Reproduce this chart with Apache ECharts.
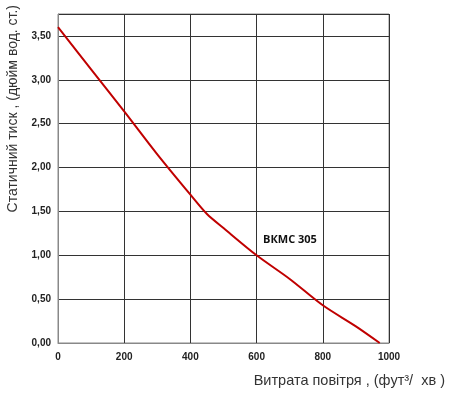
<!DOCTYPE html>
<html><head><meta charset="utf-8">
<script src="https://cdn.jsdelivr.net/npm/echarts@6/dist/echarts.min.js"></script>
<style>html,body{margin:0;padding:0;background:#fff}#c{width:450px;height:394px}</style>
</head><body><div id="c"></div>
<script>
const flowValues = [0, 100, 200, 300, 400, 450, 500, 600, 700, 800, 900, 972];
const pressureValues = [3.6, 3.12, 2.64, 2.15, 1.69, 1.47, 1.31, 1.0, 0.73, 0.43, 0.19, 0];
const seriesName = 'ВКМС 305';
const xTitle = 'Витрата повітря , (фут³/  хв )';
const yTitle = 'Статичний тиск , (дюйм вод. ст.)';

const chart = echarts.init(document.getElementById('c'));
const pts = flowValues.map((x, i) => [x, pressureValues[i]]);
chart.setOption({
  animation: false,
  grid: {left: 58, right: 61, top: 14, bottom: 51, show: true, borderColor: '#888', borderWidth: 1},
  xAxis: {
    type: 'value', min: 0, max: 1000, interval: 200,
    axisLine: {show: true, lineStyle: {color: '#888'}},
    axisTick: {show: false},
    splitLine: {show: true, lineStyle: {color: '#333', width: 1}},
    axisLabel: {color: '#222', fontSize: 10, fontWeight: 'bold', fontFamily: 'Liberation Sans, Arial', margin: 9,
      formatter: v => String(v)}
  },
  yAxis: {
    type: 'value', min: 0, max: 3.75, interval: 0.5,
    axisLine: {show: true, lineStyle: {color: '#888'}},
    axisTick: {show: false},
    splitLine: {show: true, lineStyle: {color: '#333', width: 1}},
    axisLabel: {color: '#222', fontSize: 10, fontWeight: 'bold', fontFamily: 'Liberation Sans, Arial', margin: 7,
      showMaxLabel: false,
      formatter: v => (Math.abs(v - 3.75) < 1e-6 ? '' : v.toFixed(2).replace('.', ','))}
  },
  series: [{
    type: 'line', name: seriesName, data: pts, smooth: 0.3, symbol: 'none',
    lineStyle: {color: '#C00000', width: 2}
  }],
  graphic: [
    {type: 'text', left: 263, top: 234, style: {text: seriesName, font: 'bold 11px "Open Sans", sans-serif', fill: '#111'}},
    {type: 'text', right: 5, top: 373, style: {text: xTitle, font: '14.5px "Liberation Sans", Arial, sans-serif', fill: '#333'}},
    {type: 'text', left: 6, top: 5, rotation: Math.PI / 2, originX: 0, originY: 0,
      style: {text: yTitle, font: '14px "Liberation Sans", Arial, sans-serif', fill: '#333', align: 'right', verticalAlign: 'top'}}
  ]
});
</script></body></html>
